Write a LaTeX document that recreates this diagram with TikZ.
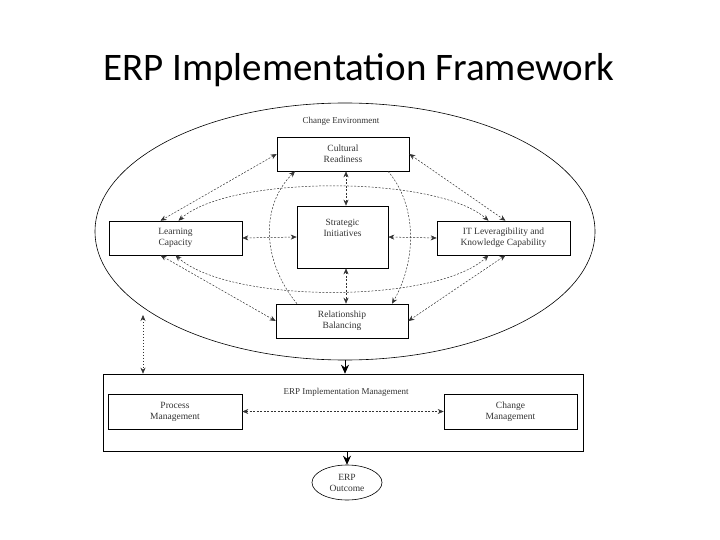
\documentclass[tikz,border=0pt]{standalone}
\usepackage{fontspec}
\setmainfont{Liberation Serif}
\newfontfamily\titlefont{Carlito}
\usetikzlibrary{arrows.meta,shapes.geometric}
\begin{document}
\begin{tikzpicture}[x=1pt,y=-1pt,
  box/.style={draw,line width=0.6pt,inner sep=0pt,align=center,font=\fontsize{9.5}{11}\selectfont,text=black!80},
  dl/.style={draw,line width=0.5pt,dash pattern=on 2pt off 1.5pt,black!80},
  bi/.style={dl,{Stealth[length=6pt,width=5pt]}-{Stealth[length=6pt,width=5pt]}},
  one/.style={dl,-{Stealth[length=6pt,width=5pt]}},
  solid arrow/.style={draw,line width=0.8pt,-{Stealth[length=9pt,width=8pt]}}]
\useasboundingbox (0,0) rectangle (720,540);
\node[font=\titlefont\fontsize{39}{42}\selectfont] (title) at (359,70) {ERP Implementation Framework};
\node[draw,ellipse,line width=0.6pt,minimum width=500pt,minimum height=257pt,inner sep=0pt] (E) at (345,231.5) {};
\node[font=\fontsize{9}{10}\selectfont,text=black!80] (ce) at (341,121) {Change Environment};
\node[box,minimum width=132pt,minimum height=34pt] (C) at (343,154) {Cultural\\Readiness};
\node[box,minimum width=91pt,minimum height=62pt] (S) at (342.5,237) {Strategic\\Initiatives\\[7pt]};
\node[box,minimum width=133pt,minimum height=34pt] (L) at (175.5,238) {Learning\\Capacity};
\node[box,minimum width=133pt,minimum height=34pt] (I) at (503.5,238) {IT Leveragibility and\\Knowledge Capability};
\node[box,minimum width=132pt,minimum height=34pt] (R) at (342,321) {Relationship\\Balancing};
\node[draw,line width=0.6pt,minimum width=480pt,minimum height=77pt,inner sep=0pt] (M) at (343,412.5) {};
\node[font=\fontsize{9}{10}\selectfont,text=black!80] (mt) at (346,392) {ERP Implementation Management};
\node[box,minimum width=134pt,minimum height=35pt] (P) at (175,411.5) {Process\\Management};
\node[box,minimum width=133pt,minimum height=35pt] (G) at (510.5,411.5) {Change\\Management};
\node[box,ellipse,minimum width=70pt,minimum height=35pt] (O) at (347,482.5) {ERP\\Outcome};
% arrows
\draw[bi] (C.west) -- ([xshift=-15pt]L.north);
\draw[bi] (C.east) -- ([xshift=2pt]I.north);
\draw[bi] ([xshift=-15pt]L.south) -- (R.west);
\draw[bi] ([xshift=2pt]I.south) -- (R.east);
\draw[bi] ([xshift=3pt]L.north) .. controls (230,175) and (436,175) .. ([xshift=-15pt]I.north);
\draw[bi] (L.south) .. controls (230,304) and (436,304) .. ([xshift=-15pt]I.south);
\draw[bi] (L.east) -- (S.west);
\draw[bi] (S.east) -- (I.west);
\draw[bi] ([xshift=3pt]C.south) -- ([xshift=3.5pt]S.north);
\draw[bi] ([xshift=3.5pt]S.south) -- ([xshift=4pt]R.north);
\draw[one] ([xshift=-45pt]R.north) .. controls (261,260) and (261,205) .. ([xshift=-48pt]C.south);
\draw[one] ([xshift=45pt]C.south) .. controls (417,205) and (417,260) .. ([xshift=50pt]R.north);
\coordinate (et) at (143,315);
\draw[dl,dash pattern=on 1.5pt off 1.5pt,{Stealth[length=6pt,width=5pt]}-{Stealth[length=6pt,width=5pt]}] (et) -- (et |- M.north);
\draw[solid arrow] (E.south) -- (E.south |- M.north);
\draw[solid arrow] (M.south -| O.north) -- (O.north);
\draw[bi] (P.east) -- (G.west);
\end{tikzpicture}
\end{document}
